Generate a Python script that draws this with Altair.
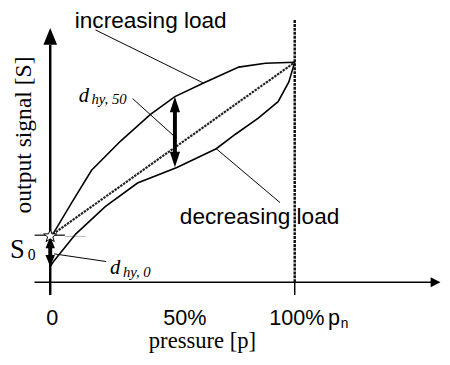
import altair as alt
import pandas as pd

# ---- data (pressure in % of p_n, output signal in arbitrary units) ----
pressure_up = [0, 1.6, 8.8, 16.9, 28.9, 41.0, 51.0, 62.7, 77.1, 88.0, 100]
signal_up = [21.0, 22.8, 36.2, 50.9, 64.3, 76.3, 84.4, 90.6, 97.8, 99.6, 100]
pressure_down = [0, 1.6, 10.4, 22.5, 35.7, 51.8, 67.9, 75.9, 85.1, 93.2, 97.6, 100]
signal_down = [7.1, 9.8, 21.9, 34.4, 45.1, 52.2, 60.7, 67.4, 74.6, 82.1, 91.1, 100]
pressure_mean = [0, 100]
signal_mean = [21.0, 100.0]
s0 = 21.0
s_low0 = 7.1
hyst50_p = 51.0
hyst50_top = 84.4
hyst50_bot = 52.2
nominal_p = 100
tick_labels = ["0", "50%", "100%"]

W, H = 442, 357
xs = alt.Scale(domain=[-17.27, 160.24], nice=False, zero=False)
ys = alt.Scale(domain=[-36.16, 123.21], nice=False, zero=False)


def curve(px, sy, **mk):
    df = pd.DataFrame({"p": px, "s": sy, "i": range(len(px))})
    return alt.Chart(df).mark_line(**mk).encode(
        x=alt.X("p:Q", scale=xs, axis=None),
        y=alt.Y("s:Q", scale=ys, axis=None),
        order="i:Q",
    )


def seg(x1, y1, x2, y2, **mk):
    df = pd.DataFrame({"x": [x1], "y": [y1], "x2": [x2], "y2": [y2]})
    return alt.Chart(df).mark_rule(**mk).encode(
        x=alt.X("x:Q", scale=xs, axis=None),
        y=alt.Y("y:Q", scale=ys, axis=None),
        x2="x2:Q",
        y2="y2:Q",
    )


def pt(x, y, shape, size, fill="black", stroke="black", sw=0):
    df = pd.DataFrame({"x": [x], "y": [y]})
    return alt.Chart(df).mark_point(
        shape=shape, size=size, filled=True, fill=fill, stroke=stroke,
        strokeWidth=sw, opacity=1,
    ).encode(
        x=alt.X("x:Q", scale=xs, axis=None),
        y=alt.Y("y:Q", scale=ys, axis=None),
    )


def txt(s, px, py, size, font="Liberation Sans", style="normal", align="left",
        angle=0, baseline="alphabetic"):
    df = pd.DataFrame({"t": [s]})
    return alt.Chart(df).mark_text(
        align=align, baseline=baseline, font=font, fontSize=size,
        fontStyle=style, angle=angle, color="black",
    ).encode(x=alt.value(px - 8), y=alt.value(py - 8), text="t:N")


UP = "M0,-1L0.65,1L-0.65,1Z"
DOWN = "M0,1L0.65,-1L-0.65,-1Z"
STAR = ("M0,-1L0.235,-0.324L0.951,-0.309L0.380,0.124L0.588,0.809L0,0.4"
        "L-0.588,0.809L-0.380,0.124L-0.951,-0.309L-0.235,-0.324Z")

layers = [
    # axes
    seg(-6.4, 0, 156.2, 0, color="black", strokeWidth=1.5),
    pt(157.6, 0, "M1,0L-1,-1L-1,1Z", 100),
    seg(0, -5.8, 0, 108.0, color="black", strokeWidth=2.5),
    pt(0, 111.8, "M0,-1L0.82,1L-0.82,1Z", 289),
    seg(nominal_p, 0, nominal_p, -5.8, color="black", strokeWidth=1.5),
    # nominal pressure dashed line
    seg(nominal_p, 0, nominal_p, 119.2, color="#111111", strokeWidth=2.5, strokeDash=[3, 1]),
    # S0 tick
    seg(-6.4, s0 + 0.4, 6, s0 + 0.4, color="black", strokeWidth=1.2),
    seg(6, s0 - 0.2, 14.5, s0 - 0.2, color="#bbbbbb", strokeWidth=1),
    # curves
    curve(pressure_up, signal_up, color="black", strokeWidth=1.6),
    curve(pressure_down, signal_down, color="black", strokeWidth=1.6),
    curve(pressure_mean, signal_mean, color="#222222", strokeWidth=2.2, strokeDash=[2.5, 1]),
    # leader lines
    seg(18.5, 114.7, 62.6, 90.6, color="black", strokeWidth=1),
    seg(33.7, 83.5, 50.6, 66.5, color="black", strokeWidth=1),
    seg(67.9, 60.7, 94.0, 36.2, color="black", strokeWidth=1),
    seg(1.6, 12.9, 22.9, 9.4, color="black", strokeWidth=1),
    # hysteresis arrows
    seg(hyst50_p, hyst50_top - 5, hyst50_p, hyst50_bot + 5, color="black", strokeWidth=4),
    pt(hyst50_p, hyst50_top - 3.6, UP, 256),
    pt(hyst50_p, hyst50_bot + 3.6, DOWN, 256),
    seg(0, s0 - 4, 0, s_low0 + 4, color="black", strokeWidth=4),
    pt(0, s0 - 2.9, "M0,-1L0.8,1L-0.8,1Z", 144),
    pt(0, s_low0 + 2.6, "M0,1L0.8,-1L-0.8,-1Z", 144),
    pt(0, s0, STAR, 196, fill="white", stroke="black", sw=1),
    # texts
    txt("increasing load", 76, 25, 23),
    txt("decreasing load", 183, 225, 23),
    txt(tick_labels[0], 53, 328, 22, align="center"),
    txt(tick_labels[1], 188, 328, 22, align="center"),
    txt(tick_labels[2], 274, 328, 22),
    txt("p", 334, 328, 22),
    txt("n", 347, 331, 14),
    txt("pressure [p]", 206, 351, 23, font="Liberation Serif", align="center"),
    txt("output signal [S]", 31, 134, 24, font="Liberation Serif", align="center",
        angle=270),
    txt("S", 10, 259, 27, font="Liberation Serif"),
    txt("0", 28, 261, 16, font="Liberation Serif"),
    txt("d", 80, 100, 21, font="Liberation Serif", style="italic"),
    txt("hy, 50", 93, 102, 15, font="Liberation Serif", style="italic"),
    txt("d", 112, 276, 21, font="Liberation Serif", style="italic"),
    txt("hy, 0", 125, 279, 15, font="Liberation Serif", style="italic"),
]

chart = alt.layer(*layers).properties(
    width=W, height=H, padding=0,
    autosize=alt.AutoSizeParams(type="none"),
).configure_view(stroke=None)

chart.save("out.html", embed_options={"renderer": "svg", "actions": False})
